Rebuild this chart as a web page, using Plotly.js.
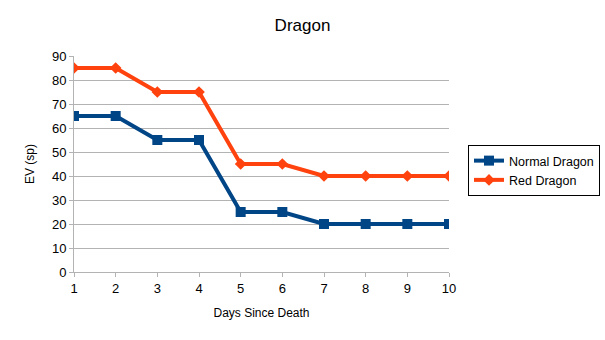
<!DOCTYPE html>
<html><head><meta charset="utf-8">
<script src="https://cdn.plot.ly/plotly-3.0.1.min.js"></script>
<style>body{margin:0;padding:0;background:#fff}#chart{width:605px;height:340px}</style>
</head><body><div id="chart"></div>
<script>
const days = [1,2,3,4,5,6,7,8,9,10];
const normalDragon = [65,65,55,55,25,25,20,20,20,20];
const redDragon = [85,85,75,75,45,45,40,40,40,40];
const traces = [
  {x: days, y: normalDragon, name: 'Normal Dragon', type: 'scatter', mode: 'lines+markers',
   line: {color: '#004586', width: 4}, marker: {symbol: 'square', size: 10, color: '#004586'}},
  {x: days, y: redDragon, name: 'Red Dragon', type: 'scatter', mode: 'lines+markers',
   line: {color: '#ff420e', width: 4}, marker: {symbol: 'diamond', size: 9, color: '#ff420e'}}
];
const layout = {
  width: 605, height: 340,
  margin: {l: 74, r: 156, t: 56, b: 68, autoexpand: false},
  paper_bgcolor: '#fff', plot_bgcolor: '#fff',
  font: {family: 'Liberation Sans, Arial, sans-serif', size: 13, color: '#000'},
  title: {text: 'Dragon', font: {size: 17, color: '#000'}, x: 0.5, xanchor: 'center', y: 0.925, yanchor: 'middle'},
  xaxis: {range: [1,10], dtick: 1, tick0: 1, showgrid: false, zeroline: false,
    showline: true, linecolor: '#b3b3b3', linewidth: 1, ticks: 'outside', ticklen: 4, tickcolor: '#b3b3b3',
    tickfont: {size: 13}, title: {text: 'Days Since Death', font: {size: 12}, standoff: 14}},
  yaxis: {range: [0,90], dtick: 10, showgrid: true, gridcolor: '#b3b3b3', gridwidth: 1, zeroline: false,
    showline: true, linecolor: '#b3b3b3', linewidth: 1, ticks: 'outside', ticklen: 4, tickcolor: '#b3b3b3',
    tickfont: {size: 13}, title: {text: 'EV (sp)', font: {size: 12}, standoff: 14}},
  showlegend: true,
  legend: {xref: 'container', yref: 'container', x: 468/605, xanchor: 'left', y: 1 - 170.5/340, yanchor: 'middle',
    bordercolor: '#000', borderwidth: 1, bgcolor: '#fff', font: {size: 12.5},
    tracegroupgap: 0, itemwidth: 30}
};
Plotly.newPlot('chart', traces, layout, {displayModeBar: false, staticPlot: true});
</script></body></html>
